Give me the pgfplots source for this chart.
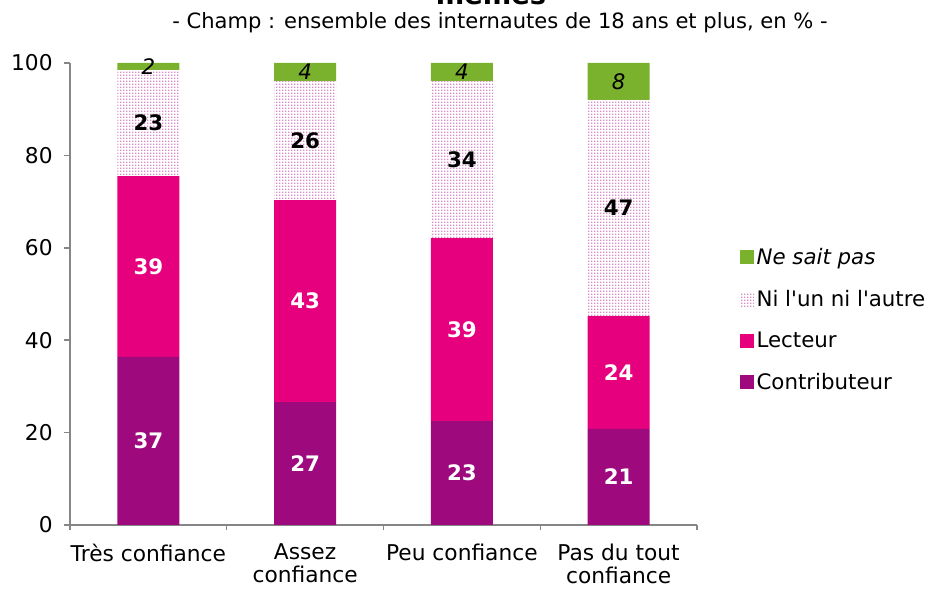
\documentclass[border=0pt]{standalone}
\usepackage{pgfplots}
\pgfplotsset{compat=1.18}
\usepackage{pgfplotstable}
\usepackage{fontspec}
\setmainfont{DejaVu Sans}
\usetikzlibrary{patterns}
\definecolor{contrib}{HTML}{9E0A7D}
\definecolor{lecteur}{HTML}{E6007E}
\definecolor{nsp}{HTML}{7AB22E}
\definecolor{axgray}{HTML}{868686}
\definecolor{dotcol}{HTML}{D98AC8}
\pgfdeclarepatternformonly{finedots}{\pgfqpoint{0pt}{0pt}}{\pgfqpoint{2.25pt}{2.25pt}}{\pgfqpoint{2.25pt}{2.25pt}}{%
  \pgfpathrectangle{\pgfqpoint{0pt}{0pt}}{\pgfqpoint{1.35pt}{1.35pt}}\pgfusepath{fill}}
\pgfplotstableread{
x v lab
0 36.4 37
1 26.6 27
2 22.5 23
3 20.8 21
}\tcontrib
\pgfplotstableread{
x v lab
0 39.1 39
1 43.7 43
2 39.6 39
3 24.4 24
}\tlecteur
\pgfplotstableread{
x v lab
0 23.0 23
1 25.8 26
2 34.0 34
3 46.8 47
}\tni
\pgfplotstableread{
x v lab
0 1.5 2
1 3.9 4
2 3.9 4
3 8.0 8
}\tnsp
\begin{document}
\begin{tikzpicture}
\begin{axis}[
  at={(52.5pt,48pt)}, anchor=south west,
  width=470.25pt, height=346.5pt, scale only axis,
  ybar stacked, bar width=0.396,
  xmin=-0.5, xmax=3.5, ymin=0, ymax=100,
  ytick={0,20,...,100},
  xtick={0,1,2,3},
  xticklabels={Très confiance,Assez\\confiance,Peu confiance,Pas du tout\\confiance},
  minor xtick={-0.5,0.5,1.5,2.5,3.5},
  major x tick style={draw=none},
  minor x tick style={draw=axgray, line width=1.1pt},
  major y tick style={draw=axgray, line width=1.1pt},
  major tick length=4.5pt, minor tick length=4pt,
  tick align=outside,
  axis lines*=left,
  axis line style={draw=axgray, line width=1.1pt},
  /pgf/number format/assume math mode=true,
  ticklabel style={font=\fontsize{16.3}{17.3}\selectfont},
  xticklabel style={align=center, text depth=0pt},
  every x tick label/.append style={yshift=-6pt},
  every y tick label/.append style={xshift=-5pt},
  nodes near coords,
  point meta=explicit symbolic,
  every node near coord/.append style={anchor=center, font=\fontsize{16}{19}\selectfont\bfseries},
  legend style={draw=none, fill=none, at={(1.068,0.4437)}, anchor=west,
    font=\fontsize{16}{19}\selectfont, row sep=13.8pt, inner sep=0pt,
    cells={anchor=west}},
  reverse legend,
  myleg/.style={legend image code/.code={\fill[##1] (0pt,-5pt) rectangle (10.5pt,5.5pt);}},
]
\addplot[fill=contrib, draw=none, myleg, every node near coord/.append style={text=white}] table[x=x, y=v, meta=lab] {\tcontrib};
\addlegendentry{Contributeur}
\addplot[fill=lecteur, draw=none, myleg, every node near coord/.append style={text=white}] table[x=x, y=v, meta=lab] {\tlecteur};
\addlegendentry{Lecteur}
\addplot[pattern=finedots, pattern color=dotcol, draw=none, myleg, every node near coord/.append style={text=black}] table[x=x, y=v, meta=lab] {\tni};
\addlegendentry{Ni l\textquotesingle un ni l\textquotesingle autre}
\addplot[fill=nsp, draw=none, myleg, every node near coord/.append style={text=black, font=\fontsize{16}{19}\selectfont\itshape}] table[x=x, y=v, meta=lab] {\tnsp};
\addlegendentry{\textit{Ne sait pas}}
\end{axis}
\node[font=\fontsize{20.5}{24}\selectfont\bfseries, anchor=base] at (368.25pt,438.4pt) {mêmes};
\node[font=\fontsize{15.8}{19}\selectfont, anchor=base] at (375pt,420pt) {- Champ : ensemble des internautes de 18 ans et plus, en \% -};
\pgfresetboundingbox
\path[use as bounding box] (0pt,0pt) rectangle (696pt,441.75pt);
\end{tikzpicture}
\end{document}
